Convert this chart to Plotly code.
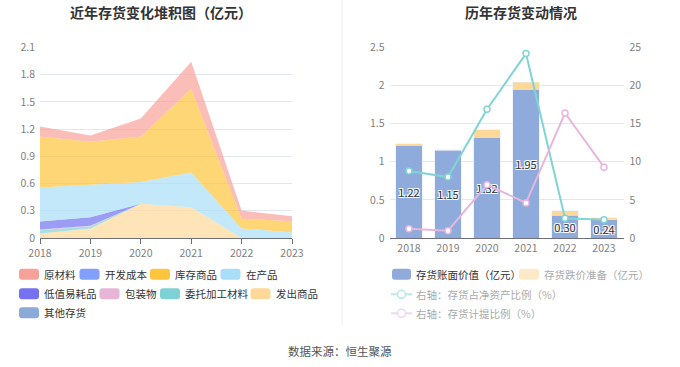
import plotly.graph_objects as go

W, H = 680, 367
FONT = "Noto Sans CJK SC, Noto Sans, sans-serif"

# ---------------- data ----------------
years = ["2018", "2019", "2020", "2021", "2022", "2023"]

raw_material = [0.11, 0.07, 0.20, 0.30, 0.09, 0.055]       # 原材料
dev_cost = [0, 0, 0, 0, 0, 0]                               # 开发成本
finished_goods = [0.56, 0.47, 0.50, 0.92, 0.107, 0.122]     # 库存商品
wip = [0.375, 0.36, 0.24, 0.385, 0.106, 0.062]              # 在产品
low_value = [0.09, 0.095, 0, 0, 0, 0]                       # 低值易耗品
packaging = [0.008, 0.005, 0, 0, 0, 0]                      # 包装物
consigned = [0.035, 0.025, 0, 0, 0, 0]                      # 委托加工材料
shipped = [0.05, 0.105, 0.378, 0.338, 0, 0]                 # 发出商品
other_inv = [0, 0, 0, 0, 0, 0]                              # 其他存货

book_value = [1.22, 1.15, 1.32, 1.95, 0.30, 0.24]           # 存货账面价值
reserve = [0.015, 0.011, 0.099, 0.094, 0.059, 0.024]        # 存货跌价准备
ratio_net_assets = [8.8, 8.0, 16.9, 24.2, 2.6, 2.4]         # 存货占净资产比例
ratio_provision = [1.2, 0.96, 7.0, 4.6, 16.4, 9.3]          # 存货计提比例

left_series = [
    ("原材料", raw_material, "#f8a19a"),
    ("开发成本", dev_cost, "#82a0fb"),
    ("库存商品", finished_goods, "#fec53c"),
    ("在产品", wip, "#a8def8"),
    ("低值易耗品", low_value, "#7472f0"),
    ("包装物", packaging, "#e6b5d8"),
    ("委托加工材料", consigned, "#7fd2d4"),
    ("发出商品", shipped, "#fdd898"),
    ("其他存货", other_inv, "#8caad8"),
]


def px(x):
    return x / W


def py(y):
    return 1 - y / H


def rgba(hexc, a):
    h = hexc.lstrip("#")
    r, g, b = int(h[0:2], 16), int(h[2:4], 16), int(h[4:6], 16)
    return f"rgba({r},{g},{b},{a})"


fig = go.Figure()

# stacked areas: stacking order is the reverse of the legend order
for name, vals, col in reversed(left_series):
    fig.add_trace(go.Scatter(
        x=years, y=vals, name=name, mode="lines", stackgroup="one",
        line=dict(width=0, color=col), fillcolor=rgba(col, 0.7),
        xaxis="x", yaxis="y", showlegend=False,
    ))

# right chart bars
fig.add_trace(go.Bar(
    x=years, y=book_value, name="存货账面价值（亿元）", marker_color="#8eabdb",
    text=[f"{v:.2f}" for v in book_value], textposition="inside",
    insidetextanchor="middle", constraintext="none", textangle=0,
    textfont=dict(size=11, color="#333333", family=FONT,
                  shadow="1px 1px 0 #fff, -1px -1px 0 #fff, 1px -1px 0 #fff, -1px 1px 0 #fff"),
    xaxis="x2", yaxis="y2", showlegend=False,
))
fig.add_trace(go.Bar(
    x=years, y=reserve, name="存货跌价准备（亿元）", marker_color="#fdd898",
    xaxis="x2", yaxis="y2", showlegend=False,
))
fig.add_trace(go.Scatter(
    x=years, y=ratio_net_assets, name="右轴：存货占净资产比例（%）",
    mode="lines+markers", line=dict(color="#80d4d6", width=2),
    marker=dict(size=6, color="white", line=dict(color="#80d4d6", width=1.5)),
    xaxis="x2", yaxis="y3", showlegend=False,
))
fig.add_trace(go.Scatter(
    x=years, y=ratio_provision, name="右轴：存货计提比例（%）",
    mode="lines+markers", line=dict(color="#e8b5dc", width=2),
    marker=dict(size=6, color="white", line=dict(color="#e8b5dc", width=1.5)),
    xaxis="x2", yaxis="y3", showlegend=False,
))

GRID = "#e3e7f1"
TICKC = "#7f7f7f"
AXC = "#6e7079"
tf = dict(size=10.5, color=TICKC, family=FONT)

y_dom = [py(238), py(47.5)]

fig.update_layout(
    width=W, height=H, margin=dict(l=0, r=0, t=0, b=0, autoexpand=False),
    paper_bgcolor="white", plot_bgcolor="white",
    font=dict(family=FONT),
    barmode="stack", bargap=0.31,
    uniformtext=dict(minsize=11, mode="show"),
    xaxis=dict(domain=[px(40), px(292)], type="category", range=[0, 5],
               showline=True, linecolor=AXC, ticks="outside", ticklen=5,
               tickcolor=AXC, tickfont=tf, showgrid=False, fixedrange=True),
    yaxis=dict(domain=y_dom, range=[0, 2.1],
               showgrid=True, gridcolor=GRID, zeroline=False, tickfont=tf,
               ticklabelstandoff=4, fixedrange=True,
               tickvals=[0, 0.3, 0.6, 0.9, 1.2, 1.5, 1.8, 2.1],
               ticktext=["0", "0.3", "0.6", "0.9", "1.2", "1.5", "1.8", "2.1"]),
    xaxis2=dict(domain=[px(389.5), px(623.5)], type="category", range=[-0.5, 5.5],
                showline=True, linecolor=AXC, ticks="", tickfont=tf,
                showgrid=False, anchor="y2", fixedrange=True),
    yaxis2=dict(domain=y_dom, range=[0, 2.5], dtick=0.5, anchor="x2",
                showgrid=True, gridcolor=GRID, zeroline=False, tickfont=tf,
                ticklabelstandoff=4, fixedrange=True),
    yaxis3=dict(range=[0, 25], dtick=5, overlaying="y2", side="right",
                anchor="x2", showgrid=False, zeroline=False, tickfont=tf,
                ticklabelstandoff=5, fixedrange=True),
)

shapes = []
annotations = []

# divider
shapes.append(dict(type="line", xref="paper", yref="paper",
                   x0=px(342), x1=px(342), y0=py(0), y1=py(325),
                   line=dict(color="#eeeeee", width=1)))

# titles
annotations.append(dict(text="<b>近年存货变化堆积图（亿元）</b>", x=px(161), y=py(12),
                        xref="paper", yref="paper", showarrow=False,
                        xanchor="center", yanchor="middle",
                        font=dict(size=14, color="#333333", family=FONT)))
annotations.append(dict(text="<b>历年存货变动情况</b>", x=px(521), y=py(12),
                        xref="paper", yref="paper", showarrow=False,
                        xanchor="center", yanchor="middle",
                        font=dict(size=14, color="#333333", family=FONT)))
annotations.append(dict(text="数据来源：恒生聚源", x=px(340), y=py(351),
                        xref="paper", yref="paper", showarrow=False,
                        xanchor="center", yanchor="middle",
                        font=dict(size=11.5, color="#555555", family=FONT)))


def rrect(x0, y0, x1, y1, r, color):
    # rounded rectangle in pixel space converted to paper coords
    pts = (f"M{px(x0 + r)},{py(y0)} L{px(x1 - r)},{py(y0)} "
           f"Q{px(x1)},{py(y0)} {px(x1)},{py(y0 + r)} "
           f"L{px(x1)},{py(y1 - r)} Q{px(x1)},{py(y1)} {px(x1 - r)},{py(y1)} "
           f"L{px(x0 + r)},{py(y1)} Q{px(x0)},{py(y1)} {px(x0)},{py(y1 - r)} "
           f"L{px(x0)},{py(y0 + r)} Q{px(x0)},{py(y0)} {px(x0 + r)},{py(y0)} Z")
    return dict(type="path", xref="paper", yref="paper", path=pts,
                fillcolor=color, line=dict(width=0))


def legend_label(text, x, y, color):
    return dict(text=text, x=px(x), y=py(y), xref="paper", yref="paper",
                xanchor="left", yanchor="middle", showarrow=False,
                font=dict(size=10.5, color=color, family=FONT))


# left legend (flow layout)
rows = [left_series[0:4], left_series[4:8], left_series[8:9]]
row_y = [274.3, 293.7, 312.7]
for row, yy in zip(rows, row_y):
    x = 19
    for name, _, col in row:
        shapes.append(rrect(x, yy - 5.5, x + 20, yy + 5.5, 3, col))
        annotations.append(legend_label(name, x + 23, yy, "#333333"))
        x += 24 + 10 * len(name) + 6.5

# right legend
ry = [274.3, 294.3, 313.3]
shapes.append(rrect(392, ry[0] - 5.5, 411, ry[0] + 5.5, 3, "#8eabdb"))
annotations.append(legend_label("存货账面价值（亿元）", 414, ry[0], "#333333"))
shapes.append(rrect(519, ry[0] - 5.5, 539, ry[0] + 5.5, 3, "#fde9c8"))
annotations.append(legend_label("存货跌价准备（亿元）", 542, ry[0], "#aaaaaa"))
for yy, col, name in [(ry[1], "#b8e8ea", "右轴：存货占净资产比例（%）"),
                      (ry[2], "#f2d6ec", "右轴：存货计提比例（%）")]:
    shapes.append(dict(type="line", xref="paper", yref="paper",
                       x0=px(391), x1=px(412), y0=py(yy), y1=py(yy),
                       line=dict(color=col, width=2)))
    shapes.append(dict(type="circle", xref="paper", yref="paper",
                       x0=px(397.5), x1=px(405.5), y0=py(yy + 4), y1=py(yy - 4),
                       fillcolor="white", line=dict(color=col, width=1.5)))
    annotations.append(legend_label(name, 414, yy, "#aaaaaa"))

fig.update_layout(shapes=shapes, annotations=annotations)

fig.write_html("out.html", config={"displayModeBar": False},
               post_script="document.body.style.margin='0';document.body.style.overflow='hidden';")
